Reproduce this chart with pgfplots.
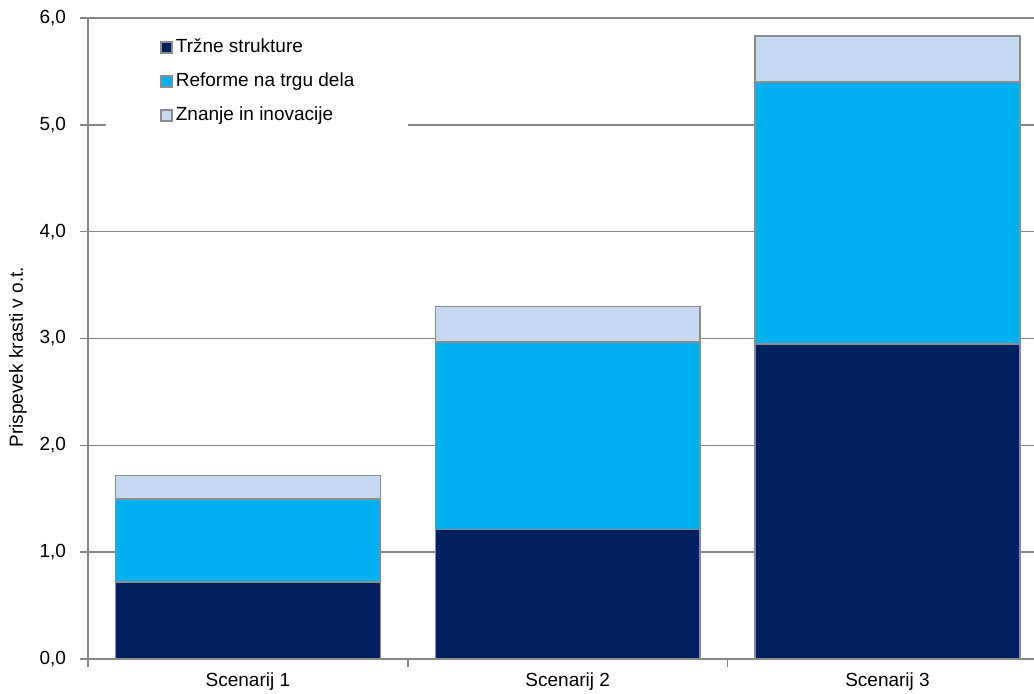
\documentclass[border=0pt]{standalone}
\usepackage{fontspec}
\setmainfont{Liberation Sans}
\usepackage{pgfplots}
\pgfplotsset{compat=1.18}

\definecolor{navy}{HTML}{002060}
\definecolor{sky}{HTML}{00B0F0}
\definecolor{pale}{HTML}{C6D9F1}
\definecolor{edge}{HTML}{8C8C8C}
\definecolor{axgray}{HTML}{868686}

\begin{document}
\begin{tikzpicture}[font=\fontsize{9.5}{11}\selectfont]
\useasboundingbox (-44pt,-17pt) rectangle (473pt,329.5pt);
\begin{axis}[
  scale only axis,
  width=473pt, height=320.5pt,
  ybar stacked,
  bar width=0.828,
  xmin=-0.5, xmax=2.458,
  ymin=0, ymax=6,
  axis x line*=bottom,
  axis y line*=left,
  axis line style={axgray, line width=1pt},
  ymajorgrids,
  major grid style={axgray, line width=0.7pt},
  tick align=outside,
  major tick length=4pt,
  tick style={axgray, line width=0.8pt},
  xtick={-0.5,0.5,1.5},
  xticklabels={},
  extra x ticks={0,1,2},
  extra x tick labels={Scenarij 1,Scenarij 2,Scenarij 3},
  extra x tick style={major tick length=0pt, xticklabel style={yshift=-3.5pt}},
  ytick={0,1,2,3,4,5,6},
  yticklabel style={xshift=-3.5pt, /pgf/number format/.cd, fixed, fixed zerofill, precision=1, use comma, assume math mode=true},
  ylabel={Prispevek krasti v o.t.},
  every axis y label/.style={at={(axis description cs:0,0.471)}, rotate=90, anchor=center, yshift=35pt},
  legend cell align=left,
  legend image code/.code={\draw[#1] (0pt,-2.75pt) rectangle (5.5pt,2.75pt);},
  legend style={
    at={(axis description cs:0.0190,0.9813)}, anchor=north west,
    draw=none, fill=white,
    inner xsep=27pt, inner ysep=4pt,
    row sep=8pt, column sep=1.5pt,
    nodes={inner sep=0pt, text height=7pt, text depth=2pt},
  },
]
\addplot[fill=navy, draw=edge, line width=0.75pt] coordinates {(0,0.72) (1,1.21) (2,2.95)};
\addplot[fill=sky, draw=edge, line width=0.75pt] coordinates {(0,0.78) (1,1.755) (2,2.45)};
\addplot[fill=pale, draw=edge, line width=0.75pt] coordinates {(0,0.22) (1,0.335) (2,0.43)};
\legend{Tržne strukture, Reforme na trgu dela, Znanje in inovacije}
\end{axis}
\end{tikzpicture}
\end{document}
